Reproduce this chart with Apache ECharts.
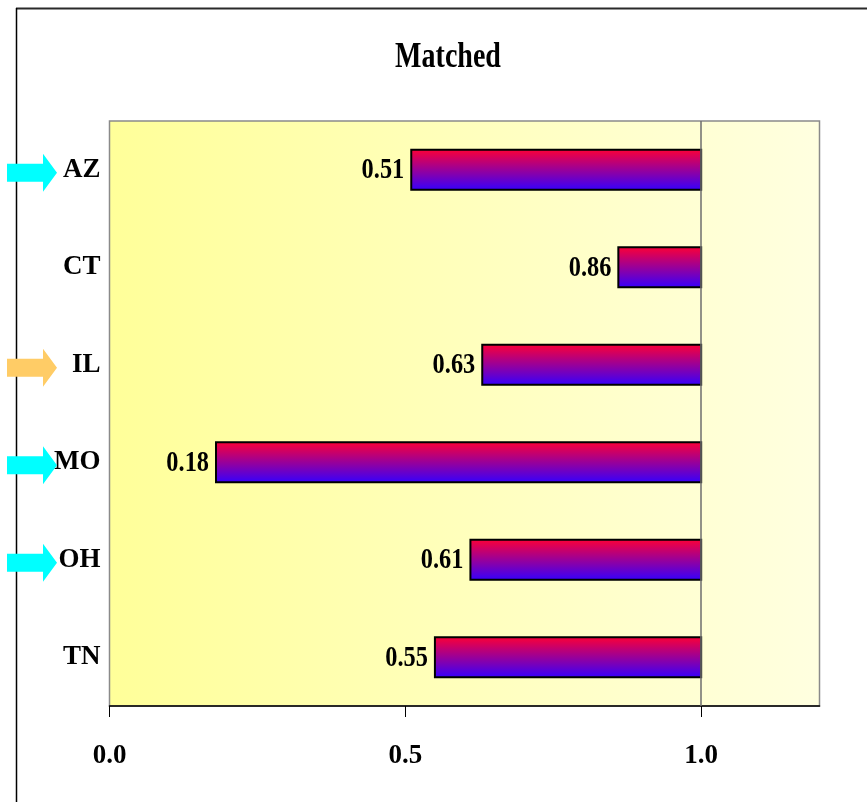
<!DOCTYPE html>
<html>
<head>
<meta charset="utf-8">
<script src="https://cdn.jsdelivr.net/npm/echarts@6/dist/echarts.min.js"></script>
<style>
  html, body { margin: 0; padding: 0; background: #ffffff; }
  #chart { width: 867px; height: 802px; }
</style>
</head>
<body>
<div id="chart"></div>
<script>
// Share of records matched per state; each bar runs from the state's value up to 1.0
const states = ['AZ', 'CT', 'IL', 'MO', 'OH', 'TN'];
const matched = [0.51, 0.86, 0.63, 0.18, 0.61, 0.55];
const axisTicks = [0, 0.5, 1.0];
const referenceValue = 1.0;

// States marked with an arrow beside their label
const arrowStates = ['AZ', 'IL', 'MO', 'OH'];
const arrowColors = ['#00FFFF', '#FFCC66', '#00FFFF', '#00FFFF'];

const SERIF = "'Liberation Serif', 'Times New Roman', serif";

const chart = echarts.init(document.getElementById('chart'), null, { renderer: 'canvas' });

function renderBar(params, api) {
  const idx = api.value(0);
  const v = api.value(1);
  const start = api.coord([v, idx]);
  const end = api.coord([referenceValue, idx]);
  const h = api.size([0, 1])[1] * 0.41;
  return {
    type: 'group',
    children: [
      {
        type: 'rect',
        shape: { x: start[0], y: start[1] - h / 2, width: end[0] - start[0], height: h },
        style: {
          fill: new echarts.graphic.LinearGradient(0, 0, 0, 1, [
            { offset: 0, color: '#FF0033' },
            { offset: 1, color: '#3300FF' }
          ]),
          stroke: '#000000',
          lineWidth: 2
        }
      },
      {
        // narrow bold figures, drawn condensed
        type: 'text',
        x: start[0] - 7,
        y: start[1] + 1,
        scaleX: 0.84,
        style: {
          text: v.toFixed(2),
          x: 0,
          y: 0,
          align: 'right',
          verticalAlign: 'middle',
          font: 'bold 29px ' + SERIF,
          fill: '#000000'
        }
      }
    ]
  };
}

function renderArrow(params, api) {
  const idx = api.value(0);
  const cy = api.coord([0, idx])[1] + 3;
  const color = arrowColors[params.dataIndex];
  return {
    type: 'polygon',
    shape: {
      points: [
        [7, cy - 9], [43, cy - 9], [43, cy - 19], [57, cy],
        [43, cy + 19], [43, cy + 9], [7, cy + 9]
      ]
    },
    style: { fill: color }
  };
}

const option = {
  animation: false,
  graphic: [
    {
      type: 'line',
      shape: { x1: 16, y1: 8.5, x2: 867, y2: 8.5 },
      style: { stroke: '#2a2a2a', lineWidth: 2 }
    },
    {
      type: 'line',
      shape: { x1: 16.5, y1: 8, x2: 16.5, y2: 802 },
      style: { stroke: '#000000', lineWidth: 1.5 }
    },
    {
      type: 'text',
      x: 448,
      y: 58,
      scaleX: 0.8,
      style: {
        text: 'Matched',
        x: 0,
        y: 0,
        align: 'center',
        verticalAlign: 'middle',
        font: 'bold 35px ' + SERIF,
        fill: '#000000'
      }
    }
  ],
  grid: {
    left: 109.5,
    top: 121,
    right: 47.5,
    bottom: 96,
    show: true,
    borderColor: '#8a8a8a',
    borderWidth: 1.5,
    backgroundColor: new echarts.graphic.LinearGradient(0, 0, 1, 0, [
      { offset: 0, color: '#FFFF99' },
      { offset: 1, color: '#FFFFE0' }
    ])
  },
  xAxis: {
    type: 'value',
    min: 0,
    max: 1.2,
    interval: 0.5,
    axisLine: { show: true, lineStyle: { color: '#000000', width: 1.5 } },
    axisTick: {
      show: true,
      length: 11,
      customValues: axisTicks,
      lineStyle: { color: '#000000', width: 1 }
    },
    axisLabel: {
      customValues: axisTicks,
      formatter: (v) => v.toFixed(1),
      margin: 37,
      fontFamily: SERIF,
      fontWeight: 'bold',
      fontSize: 27,
      color: '#000000'
    },
    splitLine: { show: false }
  },
  yAxis: {
    type: 'category',
    data: states,
    inverse: true,
    axisLine: { show: false },
    axisTick: { show: false },
    splitLine: { show: false },
    axisLabel: {
      margin: 9,
      fontFamily: SERIF,
      fontWeight: 'bold',
      fontSize: 27,
      color: '#000000'
    }
  },
  series: [
    {
      type: 'custom',
      name: 'Matched',
      renderItem: renderBar,
      encode: { x: 1, y: 0 },
      data: matched.map((v, i) => [i, v]),
      z: 3,
      markLine: {
        silent: true,
        symbol: 'none',
        label: { show: false },
        lineStyle: { color: '#6e6e6e', width: 1.5, type: 'solid' },
        data: [{ xAxis: referenceValue }]
      }
    },
    {
      type: 'custom',
      name: 'Flagged',
      clip: false,
      renderItem: renderArrow,
      data: arrowStates.map((s) => [states.indexOf(s), 0]),
      z: 1
    }
  ]
};

chart.setOption(option);
</script>
</body>
</html>
